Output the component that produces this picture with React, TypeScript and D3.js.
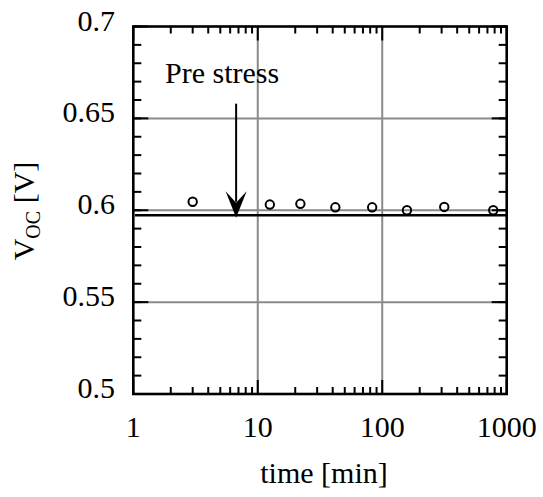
import React from "react";
import * as d3 from "d3";

// Open-circuit voltage measured over stress time
const times = [3, 12.5, 22, 42, 83, 158, 315, 780];
const voc = [0.6046, 0.6031, 0.6035, 0.6016, 0.6016, 0.6, 0.6018, 0.6];

// Pre-stress reference level
const preStressVoc = 0.5973;
const preStressSpan = [1.03, 1020];

// Annotation: label and arrow pointing at the pre-stress level
const arrowTime = 6.7;
const arrowFrom = 0.658;
const arrowTo = 0.5959;
const labelTime = 1.8;
const labelVoc = 0.6691;
const labelText = "Pre stress";

const xTickValues = [1, 10, 100, 1000];
const xTickLabels = ["1", "10", "100", "1000"];
const yTickValues = [0.5, 0.55, 0.6, 0.65, 0.7];
const yTickLabels = ["0.5", "0.55", "0.6", "0.65", "0.7"];

const W = 543;
const H = 497;
const left = 133.3;
const right = 506.7;
const top = 26.5;
const bottom = 394;

const FONT = "'Liberation Serif', 'Times New Roman', serif";

export default function App() {
  const x = d3.scaleLog().domain([1, 1000]).range([left, right]);
  const y = d3.scaleLinear().domain([0.5, 0.7]).range([bottom, top]);

  const minorX: number[] = [];
  for (const base of [1, 10, 100]) {
    for (let k = 2; k <= 9; k++) minorX.push(base * k);
  }
  const minorY = d3.range(0, 21).map((i) => +(0.5 + i * 0.01).toFixed(2));

  const gridX = [10, 100];
  const gridY = [0.55, 0.6, 0.65];
  const grey = "#8a8a8a";

  const ax = x(arrowTime);
  const tipY = y(arrowTo);
  const headPath = d3.path();
  headPath.moveTo(ax, tipY);
  headPath.lineTo(ax - 10.5, tipY - 26.5);
  headPath.lineTo(ax, tipY - 15);
  headPath.lineTo(ax + 10.5, tipY - 26.5);
  headPath.closePath();

  return (
    <svg
      width={W}
      height={H}
      style={{ position: "absolute", left: 0, top: 0, background: "#fff" }}
      fontFamily={FONT}
    >
      <rect x={0} y={0} width={W} height={H} fill="#fff" />

      {/* grid */}
      {gridX.map((t) => (
        <line key={"gx" + t} x1={x(t)} x2={x(t)} y1={top} y2={bottom} stroke={grey} strokeWidth={2} />
      ))}
      {gridY.map((v) => (
        <line key={"gy" + v} x1={left} x2={right} y1={y(v)} y2={y(v)} stroke={grey} strokeWidth={2} />
      ))}

      {/* minor ticks */}
      {minorX.map((t) => (
        <g key={"mx" + t}>
          <line x1={x(t)} x2={x(t)} y1={top} y2={top + 7} stroke="#000" strokeWidth={2} />
          <line x1={x(t)} x2={x(t)} y1={bottom} y2={bottom - 7} stroke="#000" strokeWidth={2} />
        </g>
      ))}
      {minorY.map((v) => (
        <g key={"my" + v}>
          <line x1={left} x2={left + 8} y1={y(v)} y2={y(v)} stroke="#000" strokeWidth={2} />
          <line x1={right} x2={right - 8} y1={y(v)} y2={y(v)} stroke="#000" strokeWidth={2} />
        </g>
      ))}

      {/* major ticks */}
      {xTickValues.map((t) => (
        <g key={"Mx" + t}>
          <line x1={x(t)} x2={x(t)} y1={top} y2={top + 14} stroke="#000" strokeWidth={2} />
          <line x1={x(t)} x2={x(t)} y1={bottom} y2={bottom - 14} stroke="#000" strokeWidth={2} />
        </g>
      ))}
      {yTickValues.map((v) => (
        <g key={"My" + v}>
          <line x1={left} x2={left + 15} y1={y(v)} y2={y(v)} stroke="#000" strokeWidth={2} />
          <line x1={right} x2={right - 15} y1={y(v)} y2={y(v)} stroke="#000" strokeWidth={2} />
        </g>
      ))}

      {/* frame */}
      <rect x={left} y={top} width={right - left} height={bottom - top} fill="none" stroke="#000" strokeWidth={2.6} />

      {/* pre-stress level */}
      <line
        x1={x(preStressSpan[0])}
        x2={x(preStressSpan[1])}
        y1={y(preStressVoc)}
        y2={y(preStressVoc)}
        stroke="#000"
        strokeWidth={2.4}
      />

      {/* measurements */}
      {times.map((t, i) => (
        <circle key={"p" + i} cx={x(t)} cy={y(voc[i])} r={4.2} fill="none" stroke="#000" strokeWidth={2} />
      ))}

      {/* annotation */}
      <line x1={ax} x2={ax} y1={y(arrowFrom)} y2={tipY - 16} stroke="#000" strokeWidth={2} />
      <path d={headPath.toString()} fill="#000" />
      <text x={x(labelTime)} y={y(labelVoc)} fontSize={30} fill="#000">
        {labelText}
      </text>

      {/* tick labels */}
      {xTickValues.map((t, i) => (
        <text key={"xl" + t} x={x(t)} y={bottom + 43} fontSize={30} textAnchor="middle" fill="#000">
          {xTickLabels[i]}
        </text>
      ))}
      {yTickValues.map((v, i) => (
        <text key={"yl" + v} x={115} y={y(v) + 4} fontSize={30} textAnchor="end" fill="#000">
          {yTickLabels[i]}
        </text>
      ))}

      {/* axis titles */}
      <text x={324} y={483} fontSize={30} textAnchor="middle" fill="#000">
        time [min]
      </text>
      <text
        transform={`translate(34, 211) rotate(-90)`}
        fontSize={30}
        textAnchor="middle"
        fill="#000"
      >
        V<tspan fontSize={20} dy={6}>OC</tspan>
        <tspan dy={-6}> [V]</tspan>
      </text>
    </svg>
  );
}
